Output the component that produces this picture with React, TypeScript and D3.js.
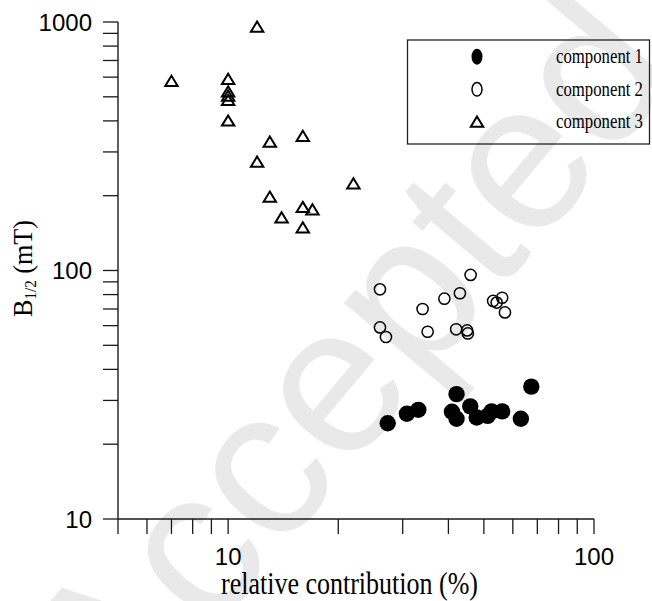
import React from 'react';
import * as d3 from 'd3';

// component 1 (filled circles)
const comp1X = [27.3, 30.8, 33.1, 42.1, 40.9, 42.1, 45.9, 47.8, 51.2, 52.5, 56.1, 63.1, 67.4];
const comp1Y = [24.3, 26.5, 27.5, 31.8, 27.0, 25.3, 28.4, 25.6, 26.0, 27.1, 27.1, 25.3, 34.1];
// component 2 (open circles)
const comp2X = [26, 46, 43, 39, 34, 53, 54.2, 56.1, 57.1, 26, 27, 35.1, 42, 45, 45.2];
const comp2Y = [84, 96, 81, 77, 70, 75.4, 74.3, 77.7, 67.8, 59, 54, 56.7, 58, 57.4, 55.8];
// component 3 (open triangles)
const comp3X = [12, 7, 10, 10, 10, 10, 10, 13, 16, 12, 22, 13, 14, 16, 17, 16];
const comp3Y = [957, 579, 590, 525, 505, 485, 401, 330, 348, 274, 224, 198, 163.5, 180, 176, 149];

const xTickValues = [5, 6, 7, 8, 9, 10, 20, 30, 40, 50, 60, 70, 80, 90, 100];
const xTickLabels = [10, 100];
const yTickValues = [10, 20, 30, 40, 50, 60, 70, 80, 90, 100, 200, 300, 400, 500, 600, 700, 800, 900, 1000];
const yTickLabels = [10, 100, 1000];
const legendLabels = ['component 1', 'component 2', 'component 3'];

const TRI = 'M0,-5.2L6.2,5L-6.2,5Z';

export default function App() {
  const x = d3.scaleLog().domain([5, 100]).range([118, 594]);
  const y = d3.scaleLog().domain([10, 1000]).range([519, 22]);
  const sans = "'Liberation Sans', Arial, sans-serif";
  const serif = "'Liberation Serif', 'Times New Roman', serif";
  const axisColor = '#1a1a1a';

  const legendRows = [56.7, 89.3, 121.7];

  return (
    <svg width={652} height={601} style={{ position: 'absolute', left: 0, top: 0, background: '#fff' }}>
      {/* watermark */}
      <text
        transform="translate(120,743) rotate(-50)"
        fontFamily={sans}
        fontSize={210}
        fill="#e9e9e9"
      >
        Accepted Manuscript
      </text>

      {/* axes */}
      <line x1={x(5)} x2={x(100)} y1={y(10)} y2={y(10)} stroke={axisColor} strokeWidth={1.4} />
      <line x1={x(5)} x2={x(5)} y1={y(10)} y2={y(1000)} stroke={axisColor} strokeWidth={1.4} />
      {xTickValues.map((v) => (
        <line key={'xt' + v} x1={x(v)} x2={x(v)} y1={y(10)} y2={y(10) + 15} stroke={axisColor} strokeWidth={1.3} />
      ))}
      {yTickValues.map((v) => (
        <line key={'yt' + v} x1={x(5) - 15} x2={x(5)} y1={y(v)} y2={y(v)} stroke={axisColor} strokeWidth={1.3} />
      ))}
      {xTickLabels.map((v) => (
        <text key={'xl' + v} x={x(v)} y={565} textAnchor="middle" fontFamily={sans} fontSize={24} fill="#000">
          {v}
        </text>
      ))}
      {yTickLabels.map((v) => (
        <text key={'yl' + v} x={92} y={y(v) + 8.6} textAnchor="end" fontFamily={sans} fontSize={24} fill="#000">
          {v}
        </text>
      ))}

      {/* axis titles */}
      <text x={221} y={594} fontFamily={serif} fontSize={32} textLength={257} lengthAdjust="spacingAndGlyphs" fill="#000">
        relative contribution (%)
      </text>
      <text transform="translate(32,317) rotate(-90)" fontFamily={serif} fontSize={28} textLength={97} lengthAdjust="spacingAndGlyphs" fill="#000">
        B<tspan fontSize={16} dy={4}>1/2</tspan>
        <tspan dy={-4}> (mT)</tspan>
      </text>

      {/* data */}
      {comp3X.map((v, i) => (
        <path key={'c3' + i} d={TRI} transform={`translate(${x(v)},${y(comp3Y[i])})`} fill="none" stroke="#000" strokeWidth={2} />
      ))}
      {comp2X.map((v, i) => (
        <circle key={'c2' + i} cx={x(v)} cy={y(comp2Y[i])} r={5.6} fill="none" stroke="#000" strokeWidth={1.5} />
      ))}
      {comp1X.map((v, i) => (
        <circle key={'c1' + i} cx={x(v)} cy={y(comp1Y[i])} r={8.2} fill="#000" />
      ))}

      {/* legend */}
      <rect x={407.5} y={40} width={242} height={104} fill="none" stroke="#222" strokeWidth={1.3} />
      <ellipse cx={477} cy={legendRows[0]} rx={5.5} ry={8} fill="#000" />
      <ellipse cx={477} cy={legendRows[1]} rx={5} ry={6.8} fill="none" stroke="#000" strokeWidth={1.5} />
      <path d={TRI} transform={`translate(477,${legendRows[2]})`} fill="none" stroke="#000" strokeWidth={2} />
      {legendLabels.map((t, i) => (
        <text key={t} x={556} y={legendRows[i] + 6.5} fontFamily={serif} fontSize={20} textLength={87} lengthAdjust="spacingAndGlyphs" fill="#000">
          {t}
        </text>
      ))}
    </svg>
  );
}
